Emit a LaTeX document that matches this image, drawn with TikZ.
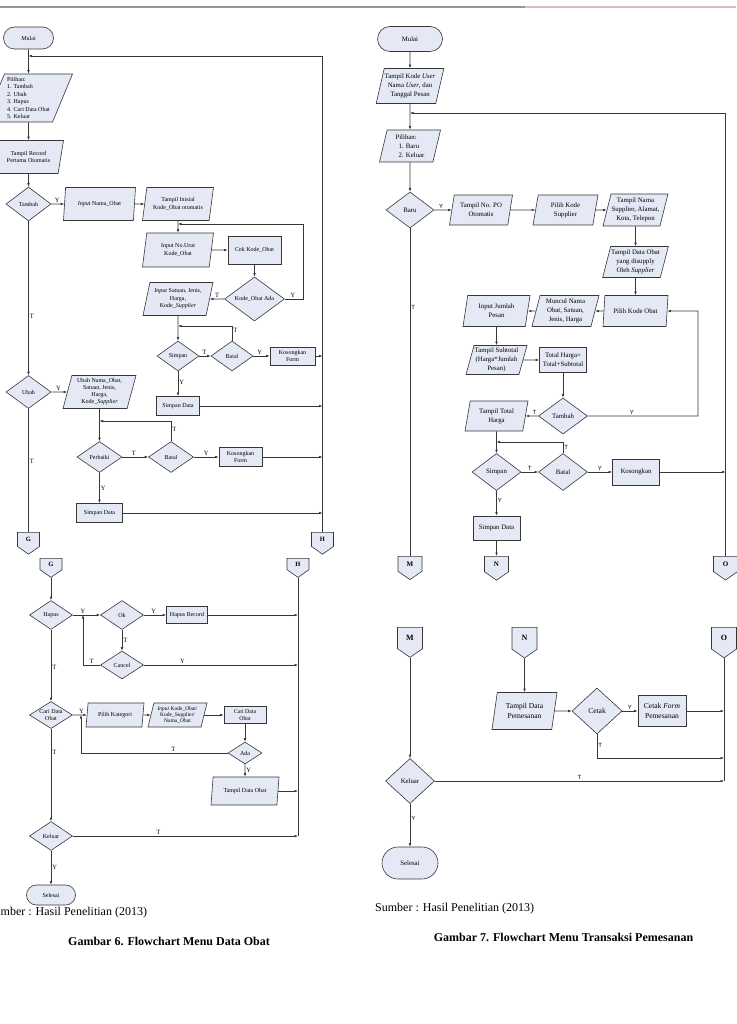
\documentclass[tikz,border=0pt]{standalone}
\usepackage{fontspec}
\setmainfont{Liberation Serif}
\newfontfamily\labsans{Liberation Sans}
\usetikzlibrary{shapes.geometric,shapes.misc,shapes.symbols,arrows.meta}
\definecolor{fc}{RGB}{228,233,245}
\definecolor{lc}{RGB}{55,55,55}
\definecolor{hdrL}{RGB}{150,150,150}
\definecolor{hdrR}{RGB}{214,190,196}
\newcommand\lfnt{\fontsize{6}{7.5}\selectfont}
\newcommand\rfnt{\fontsize{6.8}{8.8}\selectfont}
\tikzset{
  base/.style={draw=lc, fill=fc, line width=0.6pt, inner sep=0.5pt, align=center, text=black},
  term/.style 2 args={base, rounded rectangle, minimum width=#1pt, minimum height=#2pt},
  dia/.style 2 args={base, diamond, aspect=1.5, inner sep=0pt, minimum width=#1pt, minimum height=#2pt},
  proc/.style 2 args={base, rectangle, line width=0.8pt, minimum width=#1pt, minimum height=#2pt},
  para/.style 2 args={base, trapezium, trapezium left angle=72, trapezium right angle=108, trapezium stretches body=true, minimum width=#1pt, minimum height=#2pt},
  conn/.style 2 args={base, signal, signal to=south, signal from=nowhere, signal pointer angle=110, minimum width=#1pt, minimum height=#2pt, anchor=north},
  arr/.style={draw=lc, line width=0.6pt, -{Latex[length=3.5pt,width=2.6pt]}},
  ln/.style={draw=lc, line width=0.6pt},
  lbl/.style={inner sep=1pt, text=black},
}
\begin{document}
\begin{tikzpicture}[x=1pt,y=-1pt]
\useasboundingbox (0,0) rectangle (736,1024);
\fill[white] (0,0) rectangle (736,1024);
\draw[hdrL, line width=1.2pt] (0,7) -- (525,7);
\draw[hdrR, line width=1.2pt] (525,7) -- (736,7);

% ================= LEFT FLOWCHART =================
\begin{scope}[every node/.append style={font=\lfnt}, lbl/.append style={font=\fontsize{6.5}{7}\selectfont}]
\node[term={51}{22}] (Lmulai) at (28.5,38) {Mulai};
\coordinate (Ltop) at (28.5,56);
\node[para={88}{48}, trapezium left angle=65, trapezium right angle=115, align=left] (Lpil) at (28.5,98) {Pilihan:\\1. Tambah\\2. Ubah\\3. Hapus\\4. Cari Data Obat\\5. Keluar};
\node[para={70}{33}, trapezium left angle=67, trapezium right angle=113] (Lrec) at (28.5,157) {Tampil Record\\Pertama Otomatis};
\node[dia={45}{34}] (Ltambah) at (28.5,204) {Tambah};
\node[para={72}{33}] (Linama) at (99.5,204) {\textit{Input} Nama\_Obat};
\node[para={71}{33}] (Linis) at (178,204) {Tampil Inisial\\Kode\_Obat otomatis};
\coordinate (Lj1) at (178,224);
\node[para={71}{34}] (Lnourut) at (178,250) {Input No.Urut\\Kode\_Obat};
\node[proc={53}{28}] (Lcek) at (254.5,250) {Cek Kode\_Obat};
\node[dia={60}{44}] (Ladakode) at (254.5,299) {Kode\_Obat Ada};
\node[para={70}{33}] (Lsat) at (178,299) {\textit{Input} Satuan, Jenis,\\Harga,\\Kode\_\textit{Supplier}};
\coordinate (Lj2) at (178,326);
\node[dia={42}{30}] (Lsimpan) at (178,356) {Simpan};
\node[dia={42}{30}] (Lbatal) at (232,356) {Batal};
\node[proc={45}{18}] (Lkos) at (292.5,356) {Kosongkan\\Form};
\node[proc={43}{19}] (Lsd) at (178,406) {Simpan Data};
\node[dia={45}{33}] (Lubah) at (28.5,392) {Ubah};
\node[para={73}{33}, font=\fontsize{6}{7}\selectfont] (Lunama) at (99.5,392) {Ubah Nama\_Obat,\\Satuan, Jenis,\\Harga,\\Kode\_\textit{Supplier}};
\coordinate (Lj3) at (99.5,421);
\node[dia={45}{31}] (Lperb) at (99.5,457) {Perbaiki};
\node[dia={45}{31}] (Lbatal2) at (171,457) {Batal};
\node[proc={43}{19}] (Lkos2) at (240.5,457) {Kosongkan\\Form};
\node[proc={46}{19}] (Lsd2) at (99.5,513) {Simpan Data};
\node[conn={22}{16.3}, font=\bfseries\fontsize{6.5}{7}\selectfont] (LG1) at (28.5,532) {G};
\node[conn={22}{16.3}, font=\bfseries\fontsize{6.5}{7}\selectfont] (LH1) at (322.5,532) {H};

\node[conn={22}{13.5}, font=\bfseries\fontsize{6.5}{7}\selectfont] (LG2) at (51,558) {G};
\node[conn={22}{13.5}, font=\bfseries\fontsize{6.5}{7}\selectfont] (LH2) at (298,558) {H};
\node[dia={43}{29}] (Lhapus) at (51,615) {Hapus};
\node[dia={43}{29}] (Lok) at (122,615) {Ok};
\node[proc={41}{17}] (Lhr) at (187,615) {Hapus Record};
\node[dia={43}{28}] (Lcancel) at (122,665) {Cancel};
\coordinate (Lj4) at (83,615);
\node[dia={43}{27}] (Lcari) at (51,715) {Cari Data\\Obat};
\coordinate (Lj5) at (81,715);
\node[para={58}{24}] (Lkat) at (115,715) {Pilih Kategori};
\node[para={59}{24}, font=\fontsize{5.5}{6.4}\selectfont] (Likode) at (177.5,715) {\textit{Input} Kode\_Obat/\\Kode\_Supplier/\\Nama\_Obat};
\node[proc={42}{17}, font=\fontsize{5.8}{6.8}\selectfont] (Lcr) at (245,715) {Cari Data\\Obat};
\node[dia={34}{22}] (Lada) at (245,753) {Ada};
\node[para={68}{28}] (Ltdo) at (245,791) {Tampil Data Obat};
\node[dia={43}{29}] (Lkel) at (51,836) {Keluar};
\node[term={50}{20}] (Lsel) at (51,895) {Selesai};

\draw[arr] (Lmulai.south) -- (Lpil.north);
\draw[arr] (LH1.north) |- (Ltop);
\draw[arr] (Lpil.south) -- (Lrec.north);
\draw[arr] (Lrec.south) -- (Ltambah.north);
\draw[arr] (Ltambah.east) -- (Linama.west) node[lbl,above,pos=0.45] (lb1) {Y};
\draw[arr] (Linama.east) -- (Linis.west);
\draw[arr] (Linis.south) -- (Lnourut.north);
\draw[arr] (Lnourut.east) -- (Lcek.west);
\draw[arr] (Lcek.south) -- (Ladakode.north);
\draw[arr] (Ladakode.east) -- (303,299) node[lbl,above,pos=0.45] (lb2) {Y} -- (303,224) -- (Lj1);
\draw[arr] (Ladakode.west) -- (Lsat.east) node[lbl,above,pos=0.5] (lb3) {T};
\draw[arr] (Lsat.south) -- (Lsimpan.north);
\draw[arr] (Lbatal.north) -- (232,326) node[lbl,right,pos=0.7] (lb4) {T} -- (Lj2);
\draw[arr] (Lsimpan.east) -- (Lbatal.west) node[lbl,above,pos=0.45] (lb5) {T};
\draw[arr] (Lbatal.east) -- (Lkos.west) node[lbl,above,pos=0.4] (lb6) {Y};
\draw[arr] (Lkos.east) -- (Lkos.east -| LH1);
\draw[arr] (Lsimpan.south) -- (Lsd.north) node[lbl,right,pos=0.45] (lb7) {Y};
\draw[arr] (Lsd.east) -- (Lsd.east -| LH1);
\draw[arr] (Ltambah.south) -- (Lubah.north) node[lbl,right,pos=0.62] (lb8) {T};
\draw[arr] (Lubah.east) -- (Lunama.west) node[lbl,above,pos=0.45] (lb9) {Y};
\draw[arr] (Lunama.south) -- (Lperb.north);
\draw[arr] (Lbatal2.north) -- (171,421) node[lbl,right,pos=0.6] (lb10) {T} -- (Lj3);
\draw[arr] (Lperb.east) -- (Lbatal2.west) node[lbl,above,pos=0.45] (lb11) {T};
\draw[arr] (Lbatal2.east) -- (Lkos2.west) node[lbl,above,pos=0.5] (lb12) {Y};
\draw[arr] (Lkos2.east) -- (Lkos2.east -| LH1);
\draw[arr] (Lperb.south) -- (Lsd2.north) node[lbl,right,pos=0.5] (lb13) {Y};
\draw[arr] (Lsd2.east) -- (Lsd2.east -| LH1);
\draw[ln] (Lubah.south) -- (LG1.north) node[lbl,right,pos=0.43] (lb14) {T};

\draw[arr] (LG2.south) -- (Lhapus.north);
\draw[arr] (Lhapus.east) -- (Lok.west) node[lbl,above,pos=0.37] (lb15) {Y};
\draw[arr] (Lok.east) -- (Lhr.west) node[lbl,above,pos=0.45] (lb16) {Y};
\draw[arr] (Lhr.east) -- (Lhr.east -| LH2);
\draw[arr] (Lok.south) -- (Lcancel.north) node[lbl,right,pos=0.5] (lb17) {T};
\draw[arr] (Lcancel.west) -- (83,665) node[lbl,above,pos=0.5] (lb18) {T} -- (Lj4);
\draw[arr] (Lcancel.east) -- (Lcancel.east -| LH2) node[lbl,above,pos=0.25] (lb19) {Y};
\draw[arr] (Lhapus.south) -- (Lcari.north) node[lbl,right,pos=0.53] (lb20) {T};
\draw[arr] (Lcari.east) -- (Lkat.west) node[lbl,above,pos=0.62] (lb21) {Y};
\draw[arr] (Lkat.east) -- (Likode.west);
\draw[arr] (Likode.east) -- (Lcr.west);
\draw[arr] (Lcr.south) -- (Lada.north);
\draw[arr] (Lada.west) -- (81,753) node[lbl,above,pos=0.37] (lb22) {T} -- (Lj5);
\draw[arr] (Lada.south) -- (Ltdo.north) node[lbl,right,pos=0.45] (lb23) {Y};
\draw[arr] (Ltdo.east) -- (Ltdo.east -| LH2);
\draw[arr] (Lcari.south) -- (Lkel.north) node[lbl,right,pos=0.25] (lb24) {T};
\draw[arr] (Lkel.east) -- (Lkel.east -| LH2) node[lbl,above,pos=0.38] (lb25) {T};
\draw[arr] (Lkel.south) -- (Lsel.north) node[lbl,right,pos=0.5] (lb26) {Y};
\draw[ln] (LH2.south) -- (LH2.south |- Lkel.east);
\end{scope}

% ================= RIGHT FLOWCHART =================
\begin{scope}[every node/.append style={font=\rfnt}, lbl/.append style={font=\labsans\fontsize{6}{7}\selectfont}]
\node[term={66}{25}] (Rmulai) at (410,39) {Mulai};
\node[para={66}{35}] (Rkode) at (410,86) {Tampil Kode \textit{User}\\Nama \textit{User}, dan\\Tanggal Pesan};
\coordinate (Rtop) at (410,113);
\node[para={61}{32}, align=left] (Rpil) at (410,146) {Pilihan:\\\hspace*{3pt}1. Baru\\\hspace*{3pt}2. Keluar};
\node[dia={48}{36}] (Rbaru) at (410,210) {Baru};
\node[para={63}{30}] (Rpo) at (481,210) {Tampil No. PO\\Otomatis};
\node[para={65}{30}] (Rsupp) at (565.5,210) {Pilih Kode\\Supplier};
\node[para={65}{32}] (Rnama) at (635.5,210) {Tampil Nama\\Supplier, Alamat,\\Kota, Telepon};
\node[para={65}{31}] (Rdob) at (635.5,262) {Tampil Data Obat\\yang disupply\\Oleh \textit{Supplier}};
\node[para={65}{31}] (Rpko) at (635.5,311) {Pilih Kode Obat};
\node[para={67}{31}] (Rmun) at (565.5,311) {Muncul Nama\\Obat, Satuan,\\Jenis, Harga};
\node[para={67}{31}] (Rjml) at (496.5,311) {Input Jumlah\\Pesan};
\node[para={61}{29}] (Rsub) at (496.5,360) {Tampil Subtotal\\(Harga*Jumlah\\Pesan)};
\node[proc={47}{25}] (Rtot) at (563,360) {Total Harga=\\Total+Subtotal};
\node[dia={49}{36}] (Rtam) at (563,416) {Tambah};
\node[para={63}{30}] (Rtth) at (496.5,416) {Tampil Total\\Harga};
\coordinate (Rj1) at (496.5,442);
\node[dia={49}{37}] (Rsim) at (496.5,472) {Simpan};
\node[dia={49}{37}] (Rbat) at (563,472) {Batal};
\node[proc={47}{26}] (Rkos) at (636,472) {Kosongkan};
\node[proc={47}{24}] (Rsd) at (496.5,528) {Simpan Data};
\node[conn={24}{17.6}, font=\bfseries\fontsize{7}{8}\selectfont] (RM1) at (410,556) {M};
\node[conn={24}{17.6}, font=\bfseries\fontsize{7}{8}\selectfont] (RN1) at (496.5,556) {N};
\node[conn={24}{17.6}, font=\bfseries\fontsize{7}{8}\selectfont] (RO1) at (725.5,556) {O};
\node[conn={25}{24.3}, font=\bfseries\fontsize{8}{9}\selectfont] (RM2) at (410,627) {M};
\node[conn={25}{24.3}, font=\bfseries\fontsize{8}{9}\selectfont] (RN2) at (524.5,627) {N};
\node[conn={25}{24.3}, font=\bfseries\fontsize{8}{9}\selectfont] (RO2) at (724,627) {O};
\coordinate (Rc) at (597,758);
\node[para={65}{37}, font=\fontsize{7.5}{10}\selectfont] (Rtdp) at (524.5,711) {Tampil Data\\Pemesanan};
\node[dia={50}{46}, font=\fontsize{7.5}{9}\selectfont] (Rcet) at (597,711) {Cetak};
\node[proc={48}{31}, font=\fontsize{7.5}{10}\selectfont] (Rform) at (662,711) {Cetak \textit{Form}\\Pemesanan};
\node[dia={49}{45}] (Rkel) at (410,781) {Keluar};
\node[term={57}{32}] (Rsel) at (410,863) {Selesai};

\draw[arr] (Rmulai.south) -- (Rkode.north);
\draw[arr] (Rkode.south) -- (Rpil.north);
\draw[arr] (RO1.north) |- (Rtop);
\draw[arr] (Rpil.south) -- (Rbaru.north);
\draw[arr] (Rbaru.east) -- (Rpo.west) node[lbl,above,pos=0.4] (rb1) {Y};
\draw[arr] (Rpo.east) -- (Rsupp.west);
\draw[arr] (Rsupp.east) -- (Rnama.west);
\draw[arr] (Rnama.south) -- (Rdob.north);
\draw[arr] (Rdob.south) -- (Rpko.north);
\draw[arr] (Rpko.west) -- (Rmun.east);
\draw[arr] (Rmun.west) -- (Rjml.east);
\draw[arr] (Rjml.south) -- (Rsub.north);
\draw[arr] (Rsub.east) -- (Rtot.west);
\draw[arr] (Rtot.south) -- (Rtam.north);
\draw[arr] (Rtam.east) -- (698,416) node[lbl,above,pos=0.4] (rb2) {Y} -- (698,311) -- (Rpko.east);
\draw[arr] (Rtam.west) -- (Rtth.east) node[lbl,above,pos=0.3] (rb3) {T};
\draw[arr] (Rtth.south) -- (Rsim.north);
\draw[arr] (Rbat.north) -- (563,442) node[lbl,right,pos=0.5] (rb4) {T} -- (Rj1);
\draw[arr] (Rsim.east) -- (Rbat.west) node[lbl,above,pos=0.5] (rb5) {T};
\draw[arr] (Rbat.east) -- (Rkos.west) node[lbl,above,pos=0.5] (rb6) {Y};
\draw[arr] (Rkos.east) -- (Rkos.east -| RO1);
\draw[arr] (Rsim.south) -- (Rsd.north) node[lbl,right,pos=0.4] (rb7) {Y};
\draw[arr] (Rsd.south) -- (RN1.north);
\draw[ln] (Rbaru.south) -- (RM1.north) node[lbl,right,pos=0.24] (rb8) {T};
\draw[arr] (RM2.south) -- (Rkel.north);
\draw[arr] (RN2.south) -- (Rtdp.north);
\draw[arr] (Rtdp.east) -- (Rcet.west);
\draw[arr] (Rcet.east) -- (Rform.west) node[lbl,above,pos=0.5] (rb9) {Y};
\draw[arr] (Rform.east) -- (Rform.east -| RO2);
\draw[arr] (Rcet.south) -- (Rc) node[lbl,right,pos=0.45] (rb10) {T} -- (Rc -| RO2);
\draw[arr] (Rkel.east) -- (Rkel.east -| RO2) node[lbl,above,pos=0.5] (rb11) {T};
\draw[arr] (Rkel.south) -- (Rsel.north) node[lbl,right,pos=0.33] (rb12) {Y};
\draw[ln] (RO2.south) -- (RO2.south |- Rkel.east);
\end{scope}

% captions
\node[anchor=west, inner sep=0pt, font=\fontsize{12}{14}\selectfont] (Lsrc) at (0.5,913) {mber : Hasil Penelitian (2013)};
\node[inner sep=0pt, font=\bfseries\fontsize{12}{14}\selectfont] (Lcap) at (169,941) {Gambar 6. Flowchart Menu Data Obat};
\node[anchor=west, inner sep=0pt, font=\fontsize{12}{14}\selectfont] (Rsrc) at (375,909) {Sumber : Hasil Penelitian (2013)};
\node[inner sep=0pt, font=\bfseries\fontsize{12}{14}\selectfont] (Rcap) at (563.5,937) {Gambar 7. Flowchart Menu Transaksi Pemesanan};
\end{tikzpicture}
\end{document}
